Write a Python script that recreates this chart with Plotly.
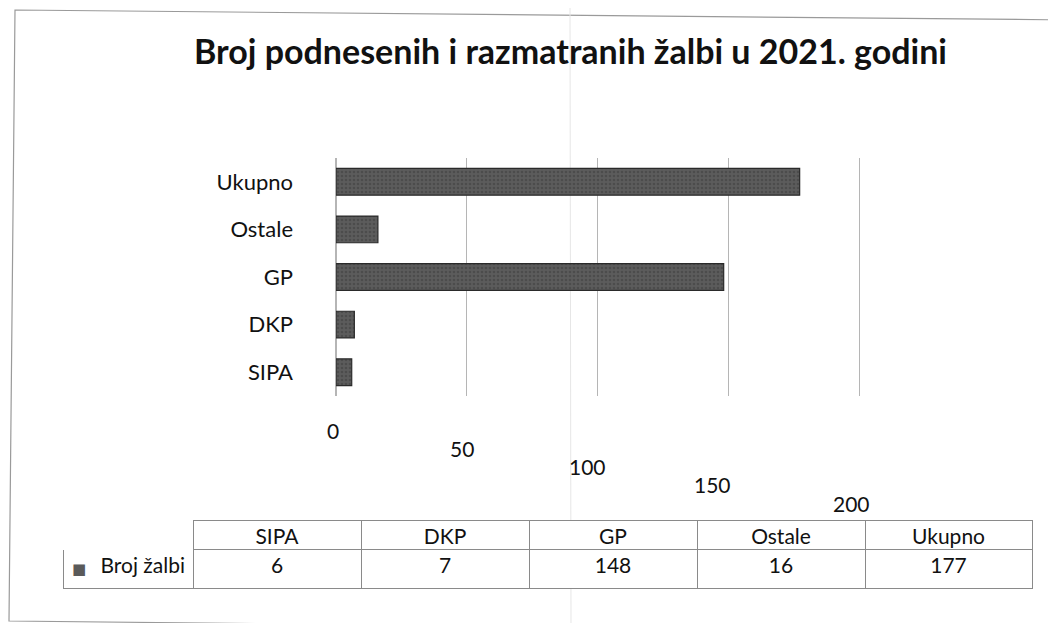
import plotly.graph_objects as go

# ---- data ----
categories = ["SIPA", "DKP", "GP", "Ostale", "Ukupno"]
values = [6, 7, 148, 16, 177]
series_name = "Broj žalbi"
x_ticks = [0, 50, 100, 150, 200]
title_text = "Broj podnesenih i razmatranih žalbi u 2021. godini"

# ---- page geometry helpers (screen px -> paper fraction) ----
W, H = 1040, 615
OFF = 8  # default body margin


def px(X):
    return (X - OFF) / W


def py(Y):
    return 1 - (Y - OFF) / H


FONT = "Lato"

fig = go.Figure()

fig.add_trace(go.Bar(
    y=categories,
    x=values,
    orientation="h",
    width=0.56,
    marker=dict(
        color="#555555",
        line=dict(color="#2a2a2a", width=1.2),
        pattern=dict(shape=".", fgcolor="#3c3c3c", bgcolor="#5c5c5c", size=4, solidity=0.35),
    ),
    name=series_name,
    showlegend=False,
    xaxis="x",
    yaxis="y",
))

# data table below the chart
fig.add_trace(go.Table(
    domain=dict(x=[px(63), px(1032)], y=[0, py(520)]),
    columnwidth=[130, 168, 168, 168, 168, 167],
    header=dict(
        values=[""] + categories,
        height=29,
        align="center",
        fill_color="white",
        line=dict(color=["white"] + ["#8a8a8a"] * 5, width=1),
        font=dict(family=FONT, size=21, color="#111"),
    ),
    cells=dict(
        values=[[series_name]] + [[v] for v in values],
        height=39,
        align=["right"] + ["center"] * 5,
        fill_color="white",
        line=dict(color="#8a8a8a", width=1),
        font=dict(family=FONT, size=21, color="#111"),
    ),
))

annotations = [
    dict(text="<b>" + title_text + "</b>", x=px(570), y=py(50), xref="paper", yref="paper",
         showarrow=False, font=dict(family=FONT, size=34, color="#111"),
         xanchor="center", yanchor="middle"),
    # legend key square in the table's row header
    dict(text="■", x=px(79), y=py(569), xref="paper", yref="paper", showarrow=False,
         font=dict(family="DejaVu Sans", size=15, color="#5a5a5a"),
         xanchor="center", yanchor="middle"),
]
x_shifts = [-3, -5, -10, -16, -8]
for i, t in enumerate(x_ticks):
    annotations.append(dict(
        text=str(t), x=t, y=py(396), xref="x", yref="paper", showarrow=False,
        xanchor="center", yanchor="middle", yshift=-(34 + i * 18.3), xshift=x_shifts[i],
        font=dict(family=FONT, size=21, color="#111"),
    ))

shapes = [
    # outer chart frame (scan slightly rotated)
    dict(type="path", xref="paper", yref="paper",
         path=f"M {px(15)} {py(10)} L {px(1075)} {py(20)} L {px(1070)} {py(632)} L {px(9)} {py(621)} Z",
         line=dict(color="#9a9a9a", width=1.2), fillcolor="rgba(0,0,0,0)", layer="below"),
    # faint scanner line
    dict(type="line", xref="paper", yref="paper", x0=px(570), x1=px(571), y0=py(8), y1=py(623),
         line=dict(color="#e6e6e6", width=1), layer="below"),
]

fig.update_layout(
    width=W, height=H,
    margin=dict(l=0, r=0, t=0, b=0),
    paper_bgcolor="white",
    plot_bgcolor="white",
    showlegend=False,
    font=dict(family=FONT, size=21, color="#111"),
    xaxis=dict(
        domain=[px(336), px(862)], range=[0, 200.8], tickvals=x_ticks, showticklabels=False,
        showgrid=True, gridcolor="#b5b5b5", gridwidth=1, zeroline=True, zerolinecolor="#b5b5b5",
        ticks="", fixedrange=True,
    ),
    yaxis=dict(
        domain=[py(396), py(158)], categoryorder="array", categoryarray=categories,
        range=[-0.5, 4.5], showgrid=False, zeroline=False, ticks="", ticklabelstandoff=42,
        tickfont=dict(family=FONT, size=22, color="#111"), fixedrange=True,
        showline=False,
    ),
    annotations=annotations,
    shapes=shapes,
)

fig.write_html("out.html")
